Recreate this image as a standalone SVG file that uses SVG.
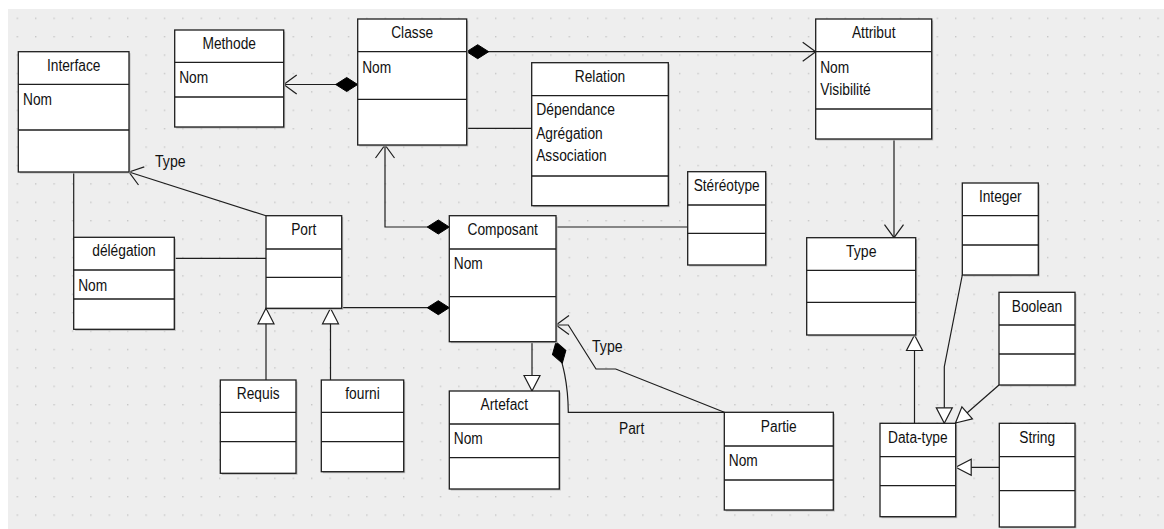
<svg xmlns="http://www.w3.org/2000/svg" width="1164" height="529" viewBox="0 0 1164 529">
  <style>
    .box { fill: #ffffff; stroke: #1e1e1e; stroke-width: 1.3; }
    .shadow { fill: #b9b9b9; }
    .sep { stroke: #1e1e1e; stroke-width: 1.3; }
    .t { font-family: "Liberation Sans", Arial, sans-serif; font-size: 16px; fill: #111111; }
    .c { text-anchor: middle; }
    .conn { fill: none; stroke: #1e1e1e; stroke-width: 1.2; }
  </style>
  <defs>
    <pattern id="grid" patternUnits="userSpaceOnUse" x="16.6" y="17.6" width="18.4" height="18.4">
      <rect x="0" y="0" width="1.4" height="1.4" fill="#c6c6c6"/>
    </pattern>
    <!-- navigable end: open arrowhead -->
    <marker id="open" markerUnits="userSpaceOnUse" viewBox="-15 -11 16 22" refX="0" refY="0" markerWidth="16" markerHeight="22" orient="auto" overflow="visible">
      <path d="M-13,-9.5 L0,0 L-13,9.5" fill="none" stroke="#1e1e1e" stroke-width="1.2"/>
    </marker>
    <!-- composition: filled diamond at the owner end -->
    <marker id="diamond" markerUnits="userSpaceOnUse" viewBox="-1 -8 24 16" refX="0" refY="0" markerWidth="24" markerHeight="16" orient="auto" overflow="visible">
      <path d="M0,0 L11,-7 L22,0 L11,7 Z" fill="#000000" stroke="#000000" stroke-width="1"/>
    </marker>
    <!-- generalization: hollow triangle -->
    <marker id="tri" markerUnits="userSpaceOnUse" viewBox="-17 -9 18 18" refX="0" refY="0" markerWidth="18" markerHeight="18" orient="auto" overflow="visible">
      <path d="M0,0 L-15.5,-8 L-15.5,8 Z" fill="#ffffff" stroke="#1e1e1e" stroke-width="1.2"/>
    </marker>
  </defs>

  <!-- canvas -->
  <rect x="0" y="0" width="1164" height="529" fill="#ffffff"/>
  <rect x="8" y="9" width="1156" height="520" fill="#eeeeee"/>
  <rect x="8" y="9" width="1156" height="520" fill="url(#grid)"/>

  <!-- connectors -->
  <g id="connectors">
    <path class="conn" d="M357.7,84.5 L283.7,84.5" marker-start="url(#diamond)" marker-end="url(#open)"/>
    <path class="conn" d="M466.7,51.7 L815.7,51.7" marker-start="url(#diamond)" marker-end="url(#open)"/>
    <path class="conn" d="M466.7,128.3 L531.7,128.3"/>
    <path class="conn" d="M449.3,227 L385,227 L385,145" marker-start="url(#diamond)" marker-end="url(#open)"/>
    <path class="conn" d="M556,227 L687.7,227"/>
    <path class="conn" d="M449.3,307.7 L341.7,307.7" marker-start="url(#diamond)"/>
    <path class="conn" d="M266,215.7 L129,172" marker-end="url(#open)"/>
    <path class="conn" d="M73.7,172 L73.7,237.3"/>
    <path class="conn" d="M174.3,258.3 L266,258.3"/>
    <path class="conn" d="M266,380 L266,308.3" marker-end="url(#tri)"/>
    <path class="conn" d="M330.5,380 L330.5,308.3" marker-end="url(#tri)"/>
    <path class="conn" d="M532,341.7 L532,391" marker-end="url(#tri)"/>
    <path class="conn" d="M556,342 C562,362 568,380 568.3,412.3 L724.3,412.3" marker-start="url(#diamond)"/>
    <path class="conn" d="M724.3,412.3 L615.7,369 L596,369 L568.3,325 L556,325" marker-end="url(#open)"/>
    <path class="conn" d="M894,139 L894,237.7" marker-end="url(#open)"/>
    <path class="conn" d="M914.5,423.3 L914.5,335" marker-end="url(#tri)"/>
    <path class="conn" d="M962.3,275 L944.3,366.7 L944.3,423.3" marker-end="url(#tri)"/>
    <path class="conn" d="M999,385 L955.5,423" marker-end="url(#tri)"/>
    <path class="conn" d="M999.3,467.3 L955.7,467.3" marker-end="url(#tri)"/>
    <text class="t" x="155" y="167" textLength="30.6" lengthAdjust="spacingAndGlyphs">Type</text>
    <text class="t" x="592" y="351.5" textLength="30.6" lengthAdjust="spacingAndGlyphs">Type</text>
    <text class="t" x="619" y="434" textLength="25.2" lengthAdjust="spacingAndGlyphs">Part</text>
  </g>

  <!-- classes -->
  <g id="interface">
    <rect class="shadow" x="19.8" y="53.2" width="110.7" height="120.3"/>
    <rect class="box" x="18.3" y="51.7" width="110.7" height="120.3"/>
    <line class="sep" x1="18.3" y1="84.3" x2="129" y2="84.3"/>
    <line class="sep" x1="18.3" y1="130" x2="129" y2="130"/>
    <text class="t c" x="73.7" y="70.7" textLength="53.5" lengthAdjust="spacingAndGlyphs">Interface</text>
    <text class="t" x="23" y="104.5" textLength="29" lengthAdjust="spacingAndGlyphs">Nom</text>
  </g>

  <g id="methode">
    <rect class="shadow" x="176.2" y="31.5" width="109" height="97"/>
    <rect class="box" x="174.7" y="30" width="109" height="97"/>
    <line class="sep" x1="174.7" y1="62.3" x2="283.7" y2="62.3"/>
    <line class="sep" x1="174.7" y1="97" x2="283.7" y2="97"/>
    <text class="t c" x="229.2" y="49" textLength="53.5" lengthAdjust="spacingAndGlyphs">Methode</text>
    <text class="t" x="179.2" y="83" textLength="29" lengthAdjust="spacingAndGlyphs">Nom</text>
  </g>

  <g id="classe">
    <rect class="shadow" x="359.2" y="20.5" width="109" height="126"/>
    <rect class="box" x="357.7" y="19" width="109" height="126"/>
    <line class="sep" x1="357.7" y1="51.7" x2="466.7" y2="51.7"/>
    <line class="sep" x1="357.7" y1="99.3" x2="466.7" y2="99.3"/>
    <text class="t c" x="412.2" y="38" textLength="42" lengthAdjust="spacingAndGlyphs">Classe</text>
    <text class="t" x="362.2" y="72.5" textLength="29" lengthAdjust="spacingAndGlyphs">Nom</text>
  </g>

  <g id="relation">
    <rect class="shadow" x="533.2" y="64.2" width="136.6" height="143"/>
    <rect class="box" x="531.7" y="62.7" width="136.6" height="143"/>
    <line class="sep" x1="531.7" y1="95.7" x2="668.3" y2="95.7"/>
    <line class="sep" x1="531.7" y1="176" x2="668.3" y2="176"/>
    <text class="t c" x="600" y="82.3" textLength="50.5" lengthAdjust="spacingAndGlyphs">Relation</text>
    <text class="t" x="536.2" y="115.3" textLength="78.8" lengthAdjust="spacingAndGlyphs">Dépendance</text>
    <text class="t" x="536.2" y="138.5" textLength="66.5" lengthAdjust="spacingAndGlyphs">Agrégation</text>
    <text class="t" x="536.2" y="161.3" textLength="70.4" lengthAdjust="spacingAndGlyphs">Association</text>
  </g>

  <g id="attribut">
    <rect class="shadow" x="817.2" y="20.5" width="116" height="120"/>
    <rect class="box" x="815.7" y="19" width="116" height="120"/>
    <line class="sep" x1="815.7" y1="51.7" x2="931.7" y2="51.7"/>
    <line class="sep" x1="815.7" y1="109" x2="931.7" y2="109"/>
    <text class="t c" x="873.7" y="38" textLength="43.6" lengthAdjust="spacingAndGlyphs">Attribut</text>
    <text class="t" x="820.2" y="72.5" textLength="29" lengthAdjust="spacingAndGlyphs">Nom</text>
    <text class="t" x="820.2" y="95" textLength="50.5" lengthAdjust="spacingAndGlyphs">Visibilité</text>
  </g>

  <g id="stereotype">
    <rect class="shadow" x="689.2" y="173.2" width="78" height="93.3"/>
    <rect class="box" x="687.7" y="171.7" width="78" height="93.3"/>
    <line class="sep" x1="687.7" y1="205" x2="765.7" y2="205"/>
    <line class="sep" x1="687.7" y1="233.3" x2="765.7" y2="233.3"/>
    <text class="t c" x="726.7" y="191" textLength="66" lengthAdjust="spacingAndGlyphs">Stéréotype</text>
  </g>

  <g id="composant">
    <rect class="shadow" x="450.8" y="217.2" width="106.7" height="126"/>
    <rect class="box" x="449.3" y="215.7" width="106.7" height="126"/>
    <line class="sep" x1="449.3" y1="249" x2="556" y2="249"/>
    <line class="sep" x1="449.3" y1="296.7" x2="556" y2="296.7"/>
    <text class="t c" x="502.7" y="234.7" textLength="70.4" lengthAdjust="spacingAndGlyphs">Composant</text>
    <text class="t" x="453.8" y="268.7" textLength="29" lengthAdjust="spacingAndGlyphs">Nom</text>
  </g>

  <g id="port">
    <rect class="shadow" x="267.5" y="217.2" width="75.7" height="92.6"/>
    <rect class="box" x="266" y="215.7" width="75.7" height="92.6"/>
    <line class="sep" x1="266" y1="249" x2="341.7" y2="249"/>
    <line class="sep" x1="266" y1="277.3" x2="341.7" y2="277.3"/>
    <text class="t c" x="303.8" y="234.7" textLength="25.2" lengthAdjust="spacingAndGlyphs">Port</text>
  </g>

  <g id="delegation">
    <rect class="shadow" x="75.2" y="238.8" width="100.6" height="92"/>
    <rect class="box" x="73.7" y="237.3" width="100.6" height="92"/>
    <line class="sep" x1="73.7" y1="270" x2="174.3" y2="270"/>
    <line class="sep" x1="73.7" y1="299" x2="174.3" y2="299"/>
    <text class="t c" x="124" y="255.5" textLength="63.5" lengthAdjust="spacingAndGlyphs">délégation</text>
    <text class="t" x="78.2" y="291" textLength="29" lengthAdjust="spacingAndGlyphs">Nom</text>
  </g>

  <g id="type">
    <rect class="shadow" x="808.2" y="239.2" width="109" height="97.3"/>
    <rect class="box" x="806.7" y="237.7" width="109" height="97.3"/>
    <line class="sep" x1="806.7" y1="270.3" x2="915.7" y2="270.3"/>
    <line class="sep" x1="806.7" y1="302.3" x2="915.7" y2="302.3"/>
    <text class="t c" x="861.2" y="256.7" textLength="30.6" lengthAdjust="spacingAndGlyphs">Type</text>
  </g>

  <g id="integer">
    <rect class="shadow" x="963.8" y="184.5" width="76" height="92"/>
    <rect class="box" x="962.3" y="183" width="76" height="92"/>
    <line class="sep" x1="962.3" y1="215.7" x2="1038.3" y2="215.7"/>
    <line class="sep" x1="962.3" y1="245" x2="1038.3" y2="245"/>
    <text class="t c" x="1000.3" y="202" textLength="42.8" lengthAdjust="spacingAndGlyphs">Integer</text>
  </g>

  <g id="boolean">
    <rect class="shadow" x="1000.5" y="293.8" width="76" height="92.7"/>
    <rect class="box" x="999" y="292.3" width="76" height="92.7"/>
    <line class="sep" x1="999" y1="325" x2="1075" y2="325"/>
    <line class="sep" x1="999" y1="354" x2="1075" y2="354"/>
    <text class="t c" x="1037" y="311.5" textLength="50.5" lengthAdjust="spacingAndGlyphs">Boolean</text>
  </g>

  <g id="requis">
    <rect class="shadow" x="221.8" y="381.5" width="75.7" height="93.3"/>
    <rect class="box" x="220.3" y="380" width="75.7" height="93.3"/>
    <line class="sep" x1="220.3" y1="412.3" x2="296" y2="412.3"/>
    <line class="sep" x1="220.3" y1="441.7" x2="296" y2="441.7"/>
    <text class="t c" x="258.2" y="399" textLength="42.8" lengthAdjust="spacingAndGlyphs">Requis</text>
  </g>

  <g id="fourni">
    <rect class="shadow" x="322.8" y="381.5" width="82.4" height="91.7"/>
    <rect class="box" x="321.3" y="380" width="82.4" height="91.7"/>
    <line class="sep" x1="321.3" y1="412.3" x2="403.7" y2="412.3"/>
    <line class="sep" x1="321.3" y1="441.7" x2="403.7" y2="441.7"/>
    <text class="t c" x="362.5" y="399" textLength="34.4" lengthAdjust="spacingAndGlyphs">fourni</text>
  </g>

  <g id="artefact">
    <rect class="shadow" x="450.8" y="392.5" width="110" height="98"/>
    <rect class="box" x="449.3" y="391" width="110" height="98"/>
    <line class="sep" x1="449.3" y1="424" x2="559.3" y2="424"/>
    <line class="sep" x1="449.3" y1="457.7" x2="559.3" y2="457.7"/>
    <text class="t c" x="504.3" y="410" textLength="47.4" lengthAdjust="spacingAndGlyphs">Artefact</text>
    <text class="t" x="453.8" y="444" textLength="29" lengthAdjust="spacingAndGlyphs">Nom</text>
  </g>

  <g id="partie">
    <rect class="shadow" x="725.8" y="413.8" width="109" height="97.7"/>
    <rect class="box" x="724.3" y="412.3" width="109" height="97.7"/>
    <line class="sep" x1="724.3" y1="446" x2="833.3" y2="446"/>
    <line class="sep" x1="724.3" y1="480" x2="833.3" y2="480"/>
    <text class="t c" x="778.8" y="431.5" textLength="35.9" lengthAdjust="spacingAndGlyphs">Partie</text>
    <text class="t" x="728.8" y="465.5" textLength="29" lengthAdjust="spacingAndGlyphs">Nom</text>
  </g>

  <g id="data-type">
    <rect class="shadow" x="881.5" y="424.8" width="75.7" height="93.4"/>
    <rect class="box" x="880" y="423.3" width="75.7" height="93.4"/>
    <line class="sep" x1="880" y1="456.7" x2="955.7" y2="456.7"/>
    <line class="sep" x1="880" y1="485.7" x2="955.7" y2="485.7"/>
    <text class="t c" x="917.8" y="442.5" textLength="59.6" lengthAdjust="spacingAndGlyphs">Data-type</text>
  </g>

  <g id="string">
    <rect class="shadow" x="1000.8" y="424.8" width="75.7" height="103.5"/>
    <rect class="box" x="999.3" y="423.3" width="75.7" height="103.7"/>
    <line class="sep" x1="999.3" y1="456.7" x2="1075" y2="456.7"/>
    <line class="sep" x1="999.3" y1="490.7" x2="1075" y2="490.7"/>
    <text class="t c" x="1037.2" y="442.5" textLength="35.9" lengthAdjust="spacingAndGlyphs">String</text>
  </g>
</svg>
